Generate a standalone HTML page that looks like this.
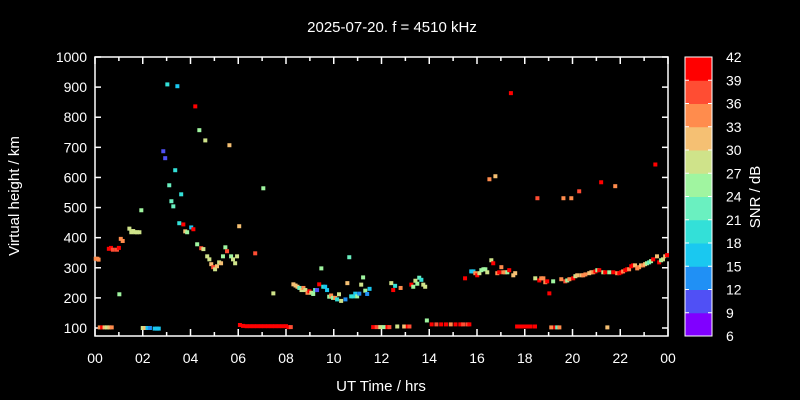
<!DOCTYPE html>
<html><head><meta charset="utf-8"><style>
body{margin:0;background:#000;}
svg{display:block;font-family:"Liberation Sans",sans-serif;}
</style></head><body>
<svg id="chart" width="800" height="400">
<rect width="800" height="400" fill="#000"/>
<text x="392" y="32" fill="#fff" font-size="15" text-anchor="middle">2025-07-20. f = 4510 kHz</text>
<text x="381" y="391" fill="#fff" font-size="15" text-anchor="middle">UT Time / hrs</text>
<text transform="translate(19,196) rotate(-90)" fill="#fff" font-size="15" text-anchor="middle">Virtual height / km</text>
<text transform="translate(760,197) rotate(-90)" fill="#fff" font-size="15" text-anchor="middle">SNR / dB</text>
<g id="axes"></g>
<g id="points"></g>
<g id="cbar"></g>
</svg>
<script>
const hours=[0.03,0.1,0.15,0.2,0.3,0.4,0.5,0.6,0.7,0.58,0.67,0.75,0.92,1.0,1.02,1.08,1.16,1.44,1.52,1.6,1.68,1.76,1.86,1.94,2.0,2.1,2.2,2.3,2.5,2.6,2.67,2.86,2.94,3.03,3.11,3.2,3.28,3.36,3.45,3.53,3.61,3.7,3.78,3.86,4.03,4.12,4.2,4.28,4.37,4.45,4.54,4.62,4.7,4.79,4.87,4.95,5.03,5.11,5.2,5.28,5.36,5.46,5.53,5.63,5.7,5.78,5.87,5.95,6.04,6.07,6.2,6.35,6.5,6.71,6.65,6.8,6.95,7.05,7.1,7.25,7.4,7.47,7.55,7.7,7.85,8.0,8.1,8.2,8.31,8.4,8.48,8.56,8.65,8.73,8.81,8.9,8.98,9.06,9.14,9.22,9.3,9.39,9.48,9.56,9.64,9.72,9.81,9.89,9.97,10.06,10.14,10.22,10.31,10.49,10.57,10.65,10.73,10.82,10.9,10.98,11.07,11.15,11.23,11.32,11.4,11.5,11.65,11.8,11.95,12.1,12.25,12.33,12.41,12.49,12.57,12.66,12.8,12.95,13.1,13.17,13.25,13.33,13.42,13.5,13.58,13.67,13.75,13.83,13.9,14.1,14.3,14.5,14.7,14.9,15.1,15.3,15.42,15.5,15.6,15.68,15.76,15.85,15.93,16.01,16.1,16.18,16.27,16.35,16.43,16.52,16.6,16.68,16.77,16.85,16.93,17.02,17.1,17.18,17.27,17.35,17.42,17.52,17.6,17.68,17.8,17.95,18.1,18.25,18.43,18.44,18.53,18.61,18.69,18.78,18.86,18.94,19.03,19.11,19.19,19.28,19.36,19.45,19.53,19.62,19.7,19.78,19.87,19.95,20.03,20.12,20.2,20.28,20.37,20.45,20.54,20.7,20.79,20.87,20.96,21.04,21.12,21.2,21.29,21.37,21.46,21.54,21.71,21.79,21.87,21.96,22.04,22.12,22.21,22.29,22.37,22.46,22.54,22.62,22.71,22.79,22.87,22.96,23.04,23.12,23.21,23.29,23.38,23.47,23.54,23.63,23.71,23.79,23.88,23.96,23.99];
const heights=[330,330,327,102,102,102,102,102,102,363,366,360,360,366,212,396,389,430,418,422,418,418,418,491,100,100,100,100,98,98,98,687,664,909,574,521,504,624,903,448,544,444,421,418,434,428,836,378,757,365,362,723,338,328,312,302,295,305,318,315,338,368,355,707,338,328,315,338,438,110,107,106,106,348,106,106,106,564,106,106,106,215,106,106,106,106,103,103,245,241,237,233,226,233,226,217,222,217,213,226,226,245,298,237,237,226,204,208,200,200,195,212,190,195,249,335,205,205,214,205,214,244,268,224,213,230,103,103,103,103,103,103,249,226,240,105,233,105,105,105,244,237,257,247,267,260,244,237,125,112,112,112,112,112,112,112,112,265,112,112,288,288,282,275,282,292,295,295,285,594,325,315,604,282,285,302,285,285,285,292,880,275,282,105,105,105,105,105,105,265,531,258,265,265,252,255,215,102,255,102,102,102,262,531,255,258,262,531,265,272,275,554,275,275,278,282,285,285,288,292,292,584,285,285,102,285,285,571,282,282,285,288,292,295,295,305,308,308,298,302,308,308,312,315,318,322,328,643,338,318,325,328,338,342,328];
const snrs=[34,34,34,34,40,31,28,31,34,40,40,37,37,40,25,34,34,28,28,28,28,28,28,25,28,31,16,13,16,16,16,10,10,19,22,22,22,19,16,19,19,40,31,25,16,40,40,25,25,37,28,28,28,28,31,37,28,31,28,31,25,25,37,31,25,28,28,28,31,40,40,40,40,37,40,40,40,25,40,40,40,28,40,40,40,40,40,37,31,31,31,22,28,34,28,34,40,28,25,22,10,40,25,19,16,16,25,34,25,34,19,28,28,13,31,22,19,19,16,25,13,28,25,25,13,16,40,37,28,25,40,37,28,40,19,28,34,31,40,37,40,25,28,25,22,19,28,28,25,40,37,40,40,34,40,40,37,40,37,40,16,16,34,40,28,25,25,25,28,34,28,40,31,34,40,34,34,34,25,40,40,31,31,40,40,40,40,40,40,28,37,40,34,34,34,40,40,34,25,40,22,34,34,34,37,25,34,34,40,28,31,37,31,34,34,31,31,34,40,25,40,40,28,40,31,25,40,34,34,40,40,34,40,40,34,40,40,31,34,34,31,34,31,25,22,25,40,40,31,40,25,28,31,40];
const xTicks=[0,2,4,6,8,10,12,14,16,18,20,22,24];
const xTickLabels=["00","02","04","06","08","10","12","14","16","18","20","22","00"];
const yTicks=[100,200,300,400,500,600,700,800,900,1000];
const cbTicks=[6,9,12,15,18,21,24,27,30,33,36,39,42];
const cbColors=["#8000ff","#5050f5","#2090f5","#1ac8f0","#33e0d8","#6af0c0","#a0f5a0","#cfe38a","#f5c073","#ff8c4d","#ff4d33","#ff0000"];

const NS="http://www.w3.org/2000/svg";
const L=95,R=668,T=57,B=336;
const xS=h=>L+h/24*(R-L);
const yS=k=>328-(k-100)*271/900;
const cS=s=>336-(s-6)/36*279;
const colorOf=s=>cbColors[Math.max(0,Math.min(11,Math.floor((s-6)/3)))];
function mk(tag,attrs,parent){const e=document.createElementNS(NS,tag);for(const k in attrs)e.setAttribute(k,attrs[k]);parent.appendChild(e);return e;}
const ax=document.getElementById('axes');
const frame=mk('rect',{x:L,y:T,width:R-L,height:B-T,fill:'none',stroke:'#fff','stroke-width':1.5},ax);


for(let h=0;h<=24;h++){const x=xS(h);const len=h%2===0?7:4;
 mk('line',{x1:x,y1:B,x2:x,y2:B-len,stroke:'#fff','stroke-width':1.5},ax);
 mk('line',{x1:x,y1:T,x2:x,y2:T+len,stroke:'#fff','stroke-width':1.5},ax);}
xTicks.forEach((h,i)=>{const t=mk('text',{x:xS(h),y:363,fill:'#fff','font-size':14,'text-anchor':'middle'},ax);t.textContent=xTickLabels[i];
 
 });
yTicks.forEach(k=>{const y=yS(k);
 mk('line',{x1:L,y1:y,x2:L+6,y2:y,stroke:'#fff','stroke-width':1.5},ax);
 mk('line',{x1:R,y1:y,x2:R-6,y2:y,stroke:'#fff','stroke-width':1.5},ax);
 const t=mk('text',{x:L-8,y:y+5,fill:'#fff','font-size':14,'text-anchor':'end'},ax);t.textContent=k;
 
 });
const pg=document.getElementById('points');
hours.forEach((h,i)=>{const r=mk('rect',{x:xS(h)-2,y:yS(heights[i])-2,width:4,height:4,fill:colorOf(snrs[i])},pg);
 
 });
const cb=document.getElementById('cbar');
for(let i=0;i<12;i++){const y1=cS(6+3*(i+1)),y0=cS(6+3*i);
 const r=mk('rect',{x:685,y:y1,width:27,height:y0-y1+0.5,fill:cbColors[i]},cb);
 
 }
mk('rect',{x:685,y:57,width:27,height:279,fill:'none',stroke:'#fff','stroke-width':1},cb);
cbTicks.forEach(s=>{const y=cS(s);
 mk('line',{x1:685,y1:y,x2:689,y2:y,stroke:'#fff','stroke-width':1},cb);
 mk('line',{x1:708,y1:y,x2:712,y2:y,stroke:'#fff','stroke-width':1},cb);
 const t=mk('text',{x:726,y:y+5,fill:'#fff','font-size':14,'text-anchor':'start'},cb);t.textContent=s;
 
 });
</script>
</body></html>
